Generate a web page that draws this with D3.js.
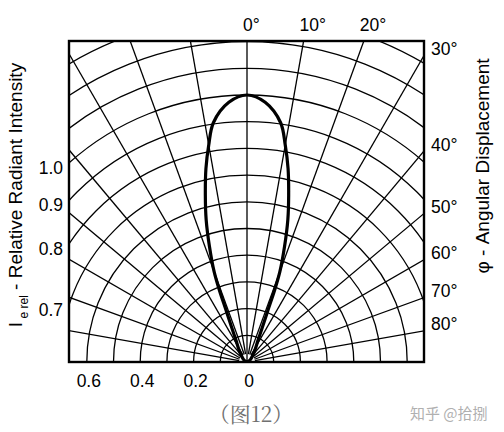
<!DOCTYPE html>
<html>
<head>
<meta charset="utf-8">
<script src="https://cdn.jsdelivr.net/npm/d3@7"></script>
<style>
  body { margin: 0; background: #fff; }
  svg { display: block; }
</style>
</head>
<body>
<div id="chart"></div>
<script>
// radiation pattern (angle in degrees, relative intensity)
const lobeAngles = [-90, -55, -40, -32, -27, -24, -22, -21, -20, -18, -16, -14, -12, -10, -8, -4,
                    0, 4, 8, 10, 12, 14, 16, 18, 20, 21, 22, 24, 27, 32, 40, 55, 90];
const lobeValues = [0, 0.015, 0.035, 0.06, 0.09, 0.14, 0.21, 0.29, 0.36, 0.455, 0.555, 0.645, 0.74, 0.825, 0.905, 0.975,
                    1.0, 0.975, 0.905, 0.825, 0.74, 0.645, 0.555, 0.455, 0.36, 0.29, 0.21, 0.14, 0.09, 0.06, 0.035, 0.015, 0];

const ringValues = [0.1, 0.2, 0.3, 0.4, 0.5, 0.6, 0.7, 0.8, 0.9, 1.0, 1.1, 1.2, 1.3, 1.4];
const spokeAngles = [-90, -80, -70, -60, -50, -40, -30, -20, -10, 0, 10, 20, 30, 40, 50, 60, 70, 80, 90];

const leftTicks = [1.0, 0.9, 0.8, 0.7];
const bottomTicks = [0.6, 0.4, 0.2, 0];
const topTicks = [0, 10, 20];
const rightTicks = [30, 40, 50, 60, 70, 80];

const width = 504, height = 432;
const box = {left: 69, right: 424, top: 41, bottom: 362};
const cx = 247, cy = 362;

const svg = d3.select("#chart").append("svg")
    .attr("width", width)
    .attr("height", height);

const r = d3.scaleLinear().domain([0, 1]).range([0, 267]);
const rad = d => d * Math.PI / 180;

svg.append("defs").append("clipPath")
    .attr("id", "clip")
    .append("rect")
    .attr("x", box.left)
    .attr("y", box.top)
    .attr("width", box.right - box.left)
    .attr("height", box.bottom - box.top);

const grid = svg.append("g")
    .attr("clip-path", "url(#clip)")
    .append("g")
    .attr("transform", "translate(" + cx + "," + cy + ")");

// rings
grid.selectAll(".ring")
    .data(ringValues)
    .enter().append("path")
    .attr("class", "ring")
    .attr("d", d => d3.arc()({innerRadius: r(d), outerRadius: r(d), startAngle: -Math.PI / 2, endAngle: Math.PI / 2}))
    .attr("fill", "none")
    .attr("stroke", "#000")
    .attr("stroke-width", 1.3);

// spokes
grid.selectAll(".spoke")
    .data(spokeAngles)
    .enter().append("line")
    .attr("class", "spoke")
    .attr("x1", d => Math.sin(rad(d)) * r(d === 0 ? 0 : 0.03))
    .attr("y1", d => -Math.cos(rad(d)) * r(d === 0 ? 0 : 0.03))
    .attr("x2", d => Math.sin(rad(d)) * r(1.6))
    .attr("y2", d => -Math.cos(rad(d)) * r(1.6))
    .attr("stroke", "#000")
    .attr("stroke-width", 1.3);

// lobe
const lobe = d3.lineRadial()
    .angle((d, i) => rad(lobeAngles[i]))
    .radius(d => r(d))
    .curve(d3.curveCatmullRom);

grid.append("path")
    .datum(lobeValues)
    .attr("d", lobe)
    .attr("fill", "none")
    .attr("stroke", "#000")
    .attr("stroke-width", 3.2);

// frame
svg.append("rect")
    .attr("x", box.left)
    .attr("y", box.top)
    .attr("width", box.right - box.left)
    .attr("height", box.bottom - box.top)
    .attr("fill", "none")
    .attr("stroke", "#000")
    .attr("stroke-width", 2.4);

const font = "'Liberation Sans', Arial, Helvetica, sans-serif";

// left ticks: where the ring meets the left edge
const dxLeft = cx - box.left;
svg.selectAll(".ltick")
    .data(leftTicks)
    .enter().append("text")
    .attr("x", 63)
    .attr("y", d => cy - Math.sqrt(r(d) * r(d) - dxLeft * dxLeft) + 6)
    .attr("text-anchor", "end")
    .attr("dominant-baseline", "middle")
    .style("font-family", font)
    .style("font-size", "17.5px")
    .text(d => d.toFixed(1));

// bottom ticks
svg.selectAll(".btick")
    .data(bottomTicks)
    .enter().append("text")
    .attr("x", d => cx - r(d) + 2)
    .attr("y", 387)
    .attr("text-anchor", "middle")
    .style("font-family", font)
    .style("font-size", "17.5px")
    .text(d => d === 0 ? "0" : d.toFixed(1));

// top ticks
svg.selectAll(".ttick")
    .data(topTicks)
    .enter().append("text")
    .attr("x", d => cx + (cy - box.top) * Math.tan(rad(d)) - 4)
    .attr("y", 31)
    .attr("text-anchor", "start")
    .style("font-family", font)
    .style("font-size", "17.5px")
    .text(d => d + "°");

// right ticks
const dxRight = box.right - cx;
svg.selectAll(".rtick")
    .data(rightTicks)
    .enter().append("text")
    .attr("x", 431)
    .attr("y", d => cy - dxRight / Math.tan(rad(d)) - 5)
    .attr("dominant-baseline", "middle")
    .style("font-family", font)
    .style("font-size", "17.5px")
    .text(d => d + "°");

// axis titles
const ltitle = svg.append("text")
    .attr("transform", "translate(22,195) rotate(-90)")
    .attr("text-anchor", "middle")
    .style("font-family", font)
    .style("font-size", "19px");
ltitle.append("tspan").text("I");
ltitle.append("tspan").attr("dy", 6).style("font-size", "12px").text(" e rel");
ltitle.append("tspan").attr("dy", -6).text(" - Relative Radiant Intensity");

svg.append("text")
    .attr("transform", "translate(489,166) rotate(-90)")
    .attr("text-anchor", "middle")
    .style("font-family", font)
    .style("font-size", "19px")
    .text("φ - Angular Displacement");

// caption and watermark
svg.append("text")
    .attr("x", 251)
    .attr("y", 422)
    .attr("text-anchor", "middle")
    .style("font-family", "'Noto Serif CJK SC', 'Noto Sans CJK SC', serif")
    .style("font-size", "21px")
    .attr("fill", "#707070")
    .text("（图12）");

svg.append("text")
    .attr("x", 410)
    .attr("y", 419)
    .style("font-family", "'Noto Sans CJK SC', sans-serif")
    .style("font-size", "15px")
    .attr("fill", "#b0b0b0")
    .text("知乎 @拾捌");
</script>
</body>
</html>
